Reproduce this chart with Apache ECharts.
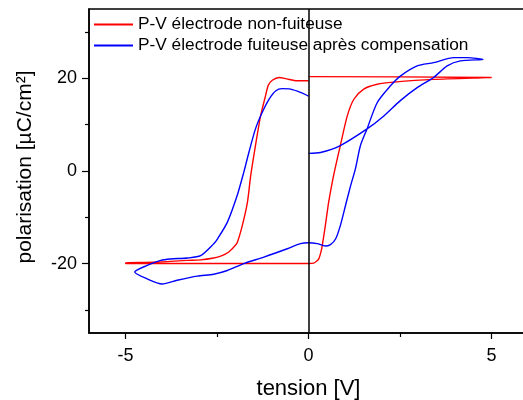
<!DOCTYPE html>
<html>
<head>
<meta charset="utf-8">
<script src="https://cdn.jsdelivr.net/npm/echarts@6/dist/echarts.min.js"></script>
<style>
  html, body { margin: 0; padding: 0; background: #fff; }
  #chart { width: 523px; height: 400px; }
</style>
</head>
<body>
<div id="chart"></div>
<script>
// P-V hysteresis loops, voltage [V] vs polarisation [µC/cm²]

// Non-leaky electrode: branches in measurement order
const redDown = [[0,19.5],[-0.31,19.5],[-0.6,19.9],[-0.8,20.2],[-0.99,19.6],[-1.1,18.5],[-1.17,16.4],[-1.24,14.2],[-1.31,11.9],[-1.45,5.5],[-1.58,-1.0],[-1.67,-6.8],[-1.81,-11.8],[-1.95,-15.5],[-2.04,-16.4],[-2.2,-17.6],[-2.4,-18.4],[-2.59,-18.8],[-2.95,-19.2],[-3.31,-19.3],[-4.23,-19.7],[-5,-19.8]];
const redFlatNeg = [[-5,-20.0],[0,-20.0],[0.14,-19.9]];
const redUp = [[0.22,-19.5],[0.28,-19.0],[0.33,-17.8],[0.37,-16.4],[0.46,-11.8],[0.55,-6.8],[0.65,-2.4],[0.74,1.0],[0.87,5.5],[1.06,11.9],[1.24,15.5],[1.51,17.7],[1.88,18.75],[2.33,19.2],[3.42,19.8],[5,20.2]];
const redFlatPos = [[0,20.4]];

// Leaky electrode after compensation
const blueDown = [[0,16.2],[-0.22,17.0],[-0.49,17.7],[-0.72,17.8],[-0.9,17.3],[-1.08,15.5],[-1.27,12.6],[-1.45,9.1],[-1.63,4.0],[-1.77,-0.3],[-1.95,-5.3],[-2.22,-11.1],[-2.49,-14.7],[-2.59,-15.7],[-2.95,-18.3],[-3.31,-18.8],[-3.77,-19.0],[-4.04,-19.3],[-4.41,-20.4],[-4.75,-21.8]];
const blueReturn = [[-4.41,-23.3],[-4.0,-24.4],[-3.59,-23.6],[-3.04,-22.7],[-2.59,-22.3],[-2.22,-21.5],[-1.77,-20.0],[-1.22,-18.6],[-0.58,-16.8],[-0.22,-15.7],[0,-15.5],[0.24,-15.7],[0.46,-16.2],[0.6,-15.9],[0.74,-14.7],[0.87,-11.8],[1.01,-7.5],[1.15,-3.2],[1.28,0.4],[1.42,5.5],[1.6,9.1],[1.88,14.8],[2.24,18.4],[2.51,20.5],[2.97,22.7],[3.42,23.4],[3.97,24.5],[4.34,24.5],[4.77,24.1]];
const blueBack = [[4.15,23.8],[3.79,22.7],[3.42,20.2],[2.97,18.0],[2.51,15.2],[2.06,11.9],[1.6,9.1],[0.87,5.5],[0.33,4.0],[0,3.8]];

const seriesNames = ['P-V électrode non-fuiteuse', 'P-V électrode fuiteuse après compensation'];
const xMajorTicks = [-5, 0, 5];
const xMinorTicks = [-2.5, 2.5];
const yMajorTicks = [-20, 0, 20];
const yMinorTicks = [-30, -10, 10, 30];

const FONT = 'Liberation Sans, Arial, sans-serif';
const X_RANGE = [-6, 6];
const Y_RANGE = [-35, 35];

const chart = echarts.init(document.getElementById('chart'), null, { renderer: 'canvas' });

const baseX = { type: 'value', min: X_RANGE[0], max: X_RANGE[1], position: 'bottom', splitLine: { show: false } };
const baseY = { type: 'value', min: Y_RANGE[0], max: Y_RANGE[1], position: 'left', splitLine: { show: false } };

chart.setOption({
  animation: false,
  backgroundColor: '#fff',
  grid: {
    left: 89, top: 9, width: 439, height: 324,
    outerBoundsMode: 'none', containLabel: false,
    show: true, borderColor: '#000', borderWidth: 1.5, backgroundColor: 'transparent'
  },
  legend: {
    left: 88, top: 11, orient: 'vertical',
    itemWidth: 39, itemHeight: 14, itemGap: 4,
    itemStyle: { opacity: 0 },
    textStyle: { fontFamily: FONT, fontSize: 17.3, color: '#000' },
    data: seriesNames
  },
  xAxis: [
    Object.assign({}, baseX, {
      name: 'tension [V]', nameLocation: 'middle', nameGap: 45,
      nameTextStyle: { fontFamily: FONT, fontSize: 22, color: '#000' },
      axisLine: { onZero: false, lineStyle: { color: '#000', width: 1.5 } },
      axisTick: { customValues: xMajorTicks, length: 6, lineStyle: { color: '#000', width: 1.2 } },
      axisLabel: { customValues: xMajorTicks, margin: 14, fontFamily: FONT, fontSize: 18, color: '#000' }
    }),
    Object.assign({}, baseX, {
      axisLine: { show: false, onZero: false },
      axisTick: { customValues: xMinorTicks, length: 4, lineStyle: { color: '#000', width: 1.2 } },
      axisLabel: { show: false }
    })
  ],
  yAxis: [
    Object.assign({}, baseY, {
      name: 'polarisation [µC/cm²]', nameLocation: 'middle', nameGap: 53, nameRotate: 90,
      nameTextStyle: { fontFamily: FONT, fontSize: 21, color: '#000', padding: [0, 0, 0, 8] },
      axisLine: { onZero: false, lineStyle: { color: '#000', width: 1.5 } },
      axisTick: { customValues: yMajorTicks, length: 7, lineStyle: { color: '#000', width: 1.2 } },
      axisLabel: { customValues: yMajorTicks, margin: 12, fontFamily: FONT, fontSize: 18, color: '#000' }
    }),
    Object.assign({}, baseY, {
      axisLine: { show: false, onZero: false },
      axisTick: { customValues: yMinorTicks, length: 4, lineStyle: { color: '#000', width: 1.2 } },
      axisLabel: { show: false }
    })
  ],
  series: [
    {
      name: seriesNames[0], type: 'line', xAxisIndex: 0, yAxisIndex: 0,
      data: redDown.concat(redFlatNeg, redUp, redFlatPos),
      symbol: 'none', smooth: 0.25, color: '#ff0000',
      lineStyle: { width: 1.4, color: '#ff0000' },
      markLine: {
        silent: true, symbol: 'none', label: { show: false },
        lineStyle: { color: '#000', width: 1.5, type: 'solid' },
        data: [{ xAxis: 0 }]
      }
    },
    {
      name: seriesNames[1], type: 'line', xAxisIndex: 0, yAxisIndex: 0,
      data: blueDown.concat(blueReturn, blueBack),
      symbol: 'none', smooth: 0.25, color: '#0000ff',
      lineStyle: { width: 1.4, color: '#0000ff' }
    }
  ]
});
</script>
</body>
</html>
